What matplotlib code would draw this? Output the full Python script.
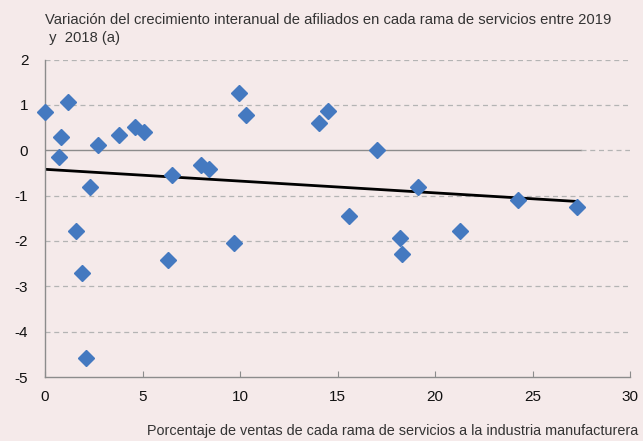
import numpy as np
import matplotlib.pyplot as plt

# porcentaje de ventas a la industria manufacturera (eje X)
ventas = [0.0, 0.8, 0.7, 1.2, 1.6, 1.9, 2.1, 2.3, 2.7, 3.8, 4.6, 5.1,
          6.3, 6.5, 8.0, 8.4, 9.7, 9.95, 10.3, 14.05, 14.5, 17.0, 15.6,
          18.2, 18.3, 19.1, 21.3, 24.25, 27.3]
# variación del crecimiento interanual de afiliados (eje Y)
variacion = [0.84, 0.29, -0.15, 1.06, -1.79, -2.70, -4.58, -0.82, 0.11,
             0.33, 0.51, 0.40, -2.41, -0.54, -0.32, -0.41, -2.05, 1.27,
             0.77, 0.60, 0.86, 0.0, -1.46, -1.93, -2.29, -0.80, -1.79,
             -1.09, -1.25]

bg = '#F5EAEA'
txt = '#333333'
grey = '#8C8C8C'

plt.rcParams['font.family'] = ['Liberation Sans', 'DejaVu Sans']
plt.rcParams['axes.unicode_minus'] = False

fig = plt.figure(figsize=(6.43, 4.41), dpi=100, facecolor=bg)
ax = fig.add_axes([0.070, 0.145, 0.910, 0.720], facecolor=bg)

ax.set_xlim(0, 30)
ax.set_ylim(-5, 2)

# gridlines
for v in range(-4, 3):
    if v == 0:
        continue
    ax.axhline(v, color='#B4B4B4', lw=0.9, ls=(0, (4, 3)), zorder=1)
ax.plot([0, 27.5], [0, 0], color=grey, lw=1.0, zorder=1)
ax.plot([27.5, 30], [0, 0], color='#B4B4B4', lw=0.9, ls=(0, (4, 3)), zorder=1)

# tendencia lineal
x = np.array(ventas)
y = np.array(variacion)
b, a = np.polyfit(x, y, 1)
xs = np.array([0, x.max()])
ax.plot(xs, a + b * xs, color='black', lw=2.0, zorder=2)

ax.plot(ventas, variacion, ls='none', marker='D', ms=8,
        color='#4479C0', mec='#4479C0', zorder=3, clip_on=False)

for s in ['top', 'right']:
    ax.spines[s].set_visible(False)
for s in ['left', 'bottom']:
    ax.spines[s].set_color(grey)
    ax.spines[s].set_linewidth(1.0)

ax.set_xticks(range(0, 31, 5))
ax.set_yticks(range(-5, 3))
ax.tick_params(axis='x', direction='in', length=4, color=grey,
               labelsize=11, labelcolor='#111111', pad=9)
ax.tick_params(axis='y', direction='in', length=0, color=grey,
               labelsize=11, labelcolor='#111111', pad=12)

fig.text(0.070, 0.955, 'Variación del crecimiento interanual de afiliados en cada rama de servicios entre 2019',
         fontsize=10.6, color=txt, ha='left', va='center')
fig.text(0.070, 0.913, ' y  2018 (a)', fontsize=10.6, color=txt, ha='left', va='center')
fig.text(0.993, 0.022, 'Porcentaje de ventas de cada rama de servicios a la industria manufacturera',
         fontsize=10.4, color=txt, ha='right', va='center')

fig.savefig('out.png', dpi=100, facecolor=bg)
